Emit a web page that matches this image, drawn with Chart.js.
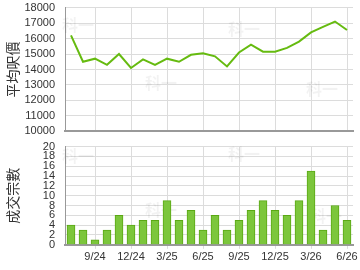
<!DOCTYPE html>
<html>
<head>
<meta charset="utf-8">
<script src="https://cdn.jsdelivr.net/npm/chart.js@4"></script>
<style>
  body { margin: 0; background: #fff; overflow: hidden; }
  .box { position: absolute; left: 0; width: 360px; }
  #top { top: -9px; height: 157px; }
  #bottom { top: 130px; height: 136px; }
</style>
</head>
<body>
<div class="box" id="top"><canvas id="priceChart"></canvas></div>
<div class="box" id="bottom"><canvas id="dealChart"></canvas></div>
<script>
'use strict';
// ---------- data ----------
let months = ['7/24', '8/24', '9/24', '10/24', '11/24', '12/24', '1/25', '2/25', '3/25', '4/25', '5/25', '6/25',
  '7/25', '8/25', '9/25', '10/25', '11/25', '12/25', '1/26', '2/26', '3/26', '4/26', '5/26', '6/26'];
let avgPrice = [16200, 14500, 14700, 14300, 15000, 14100, 14650, 14300, 14700, 14500, 14950, 15050,
  14850, 14200, 15100, 15600, 15150, 15150, 15400, 15800, 16400, 16750, 17100, 16550];
let deals = [4, 3, 1, 3, 6, 4, 5, 5, 9, 5, 7, 3, 6, 3, 5, 7, 9, 7, 6, 9, 15, 3, 8, 5];
let priceTitle = '平均呎價';
let dealTitle = '成交宗數';

// ---------- look ----------
let font = 'Liberation Sans, Arial, sans-serif';
let gridColor = '#dcdcdc';
let axisColor = '#999';

function monthGrid(c) {
  return c.index % 3 === 2 ? gridColor : 'rgba(0,0,0,0)';
}

// faint watermark text
function watermark(spots) {
  return {
    id: 'wm',
    beforeDatasetsDraw(chart) {
      let ctx = chart.ctx;
      ctx.save();
      ctx.font = 'bold 16px "Noto Sans CJK TC"';
      ctx.fillStyle = 'rgba(0,0,0,0.05)';
      for (let s of spots) ctx.fillText('科一', s[0], s[1]);
      ctx.restore();
    }
  };
}

function barFill(c) {
  let el = c.element;
  if (!el || el.x == null || isNaN(el.x)) return '#7cc63c';
  let g = c.chart.ctx.createLinearGradient(el.x - 4, 0, el.x + 4, 0);
  g.addColorStop(0, '#5fb212');
  g.addColorStop(0.4, '#a6dc6c');
  g.addColorStop(1, '#68b81e');
  return g;
}

function plainNumber(v) { return String(v); }

Chart.defaults.font.family = font;
Chart.defaults.color = '#333';
Chart.defaults.animation = false;

let yWidth = function (scale) { scale.width = 65; };

new Chart(document.getElementById('priceChart'), {
  type: 'line',
  data: {
    labels: months,
    datasets: [{
      data: avgPrice,
      borderColor: '#66bb10',
      borderWidth: 2,
      pointRadius: 0,
      tension: 0
    }]
  },
  options: {
    responsive: true,
    maintainAspectRatio: false,
    layout: { padding: { top: 1, right: 7, bottom: 0, left: 0 } },
    plugins: { legend: { display: false }, tooltip: { enabled: false } },
    scales: {
      x: {
        offset: true,
        grid: { offset: false, color: monthGrid, drawTicks: false },
        border: { color: axisColor, width: 2 },
        ticks: { display: false }
      },
      y: {
        min: 10000, max: 18000,
        afterFit: yWidth,
        grid: { color: gridColor, drawTicks: false },
        border: { color: axisColor, width: 1 },
        ticks: { stepSize: 1000, padding: 10, autoSkip: false, font: { size: 11 }, callback: plainNumber },
        title: { display: true, text: priceTitle, font: { size: 14, family: '"Noto Sans CJK TC"' }, padding: { top: 4, bottom: 0 } }
      }
    }
  },
  plugins: [watermark([[62, 40], [228, 44], [145, 98], [306, 104]])]
});

new Chart(document.getElementById('dealChart'), {
  type: 'bar',
  data: {
    labels: months,
    datasets: [{
      data: deals,
      backgroundColor: barFill,
      borderColor: '#5aa814',
      borderWidth: 1,
      barThickness: 8
    }]
  },
  options: {
    responsive: true,
    maintainAspectRatio: false,
    layout: { padding: { top: 4, right: 7, bottom: 0, left: 0 } },
    plugins: { legend: { display: false }, tooltip: { enabled: false } },
    scales: {
      x: {
        offset: true,
        grid: { offset: false, color: monthGrid, drawTicks: true, tickLength: 4 },
        border: { color: axisColor, width: 2 },
        ticks: {
          autoSkip: false, maxRotation: 0, padding: 2, font: { size: 11 },
          callback: function (v, i) { return i % 3 === 2 ? months[i] : ''; }
        }
      },
      y: {
        min: 0, max: 20,
        afterFit: yWidth,
        grid: { color: gridColor, drawTicks: false },
        border: { color: axisColor, width: 1 },
        ticks: { stepSize: 2, padding: 10, autoSkip: false, font: { size: 11 }, callback: plainNumber },
        title: { display: true, text: dealTitle, font: { size: 14, family: '"Noto Sans CJK TC"' }, padding: { top: 4, bottom: 0 } }
      }
    }
  },
  plugins: [watermark([[62, 32], [228, 30], [145, 86], [310, 92]])]
});
</script>
</body>
</html>
